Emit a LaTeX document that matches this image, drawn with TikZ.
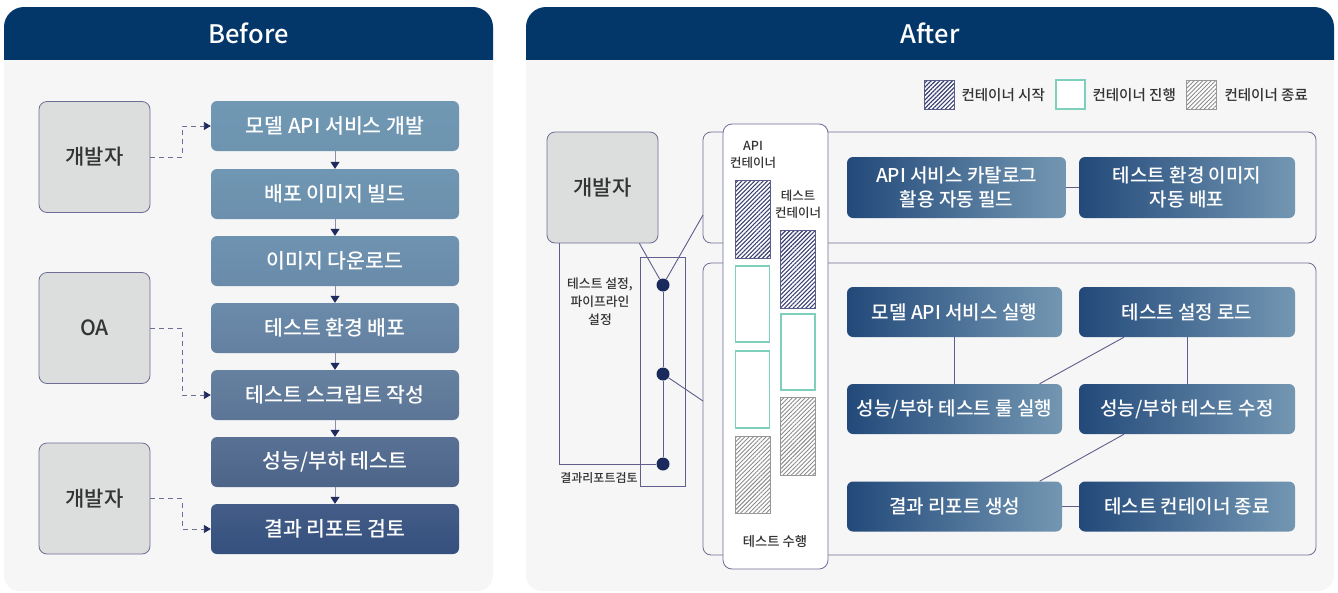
\documentclass[tikz,border=0pt]{standalone}
\usepackage{fontspec}
\setmainfont{Noto Sans CJK KR}
\newfontfamily\medfont{Noto Sans CJK KR Medium}
\usetikzlibrary{arrows.meta,patterns.meta}
\definecolor{hdrnavy}{HTML}{03376A}
\definecolor{panelbg}{HTML}{F6F6F6}
\definecolor{devgrey}{HTML}{DCDDDD}
\definecolor{boxedge}{HTML}{6E6D95}
\definecolor{linkcol}{HTML}{5F5E8C}
\definecolor{txtdark}{HTML}{333333}
\definecolor{tipnavy}{HTML}{1F2A5E}
\definecolor{steplink}{HTML}{8E8CA8}
\definecolor{dotnavy}{HTML}{1B2A5C}
\definecolor{flowleft}{HTML}{23497A}
\definecolor{flowright}{HTML}{7397B2}
\definecolor{hatchnavy}{HTML}{3A3F73}
\definecolor{hatchgrey}{HTML}{8C8C8C}
\definecolor{tealline}{HTML}{7DD0BC}
\definecolor{c1t}{HTML}{7098B3}\definecolor{c1b}{HTML}{6E94B0}
\definecolor{c2t}{HTML}{6F96B2}\definecolor{c2b}{HTML}{6C90AD}
\definecolor{c3t}{HTML}{6E93B0}\definecolor{c3b}{HTML}{6A8BAA}
\definecolor{c4t}{HTML}{6B8BAA}\definecolor{c4b}{HTML}{6480A1}
\definecolor{c5t}{HTML}{66819F}\definecolor{c5b}{HTML}{5C7597}
\definecolor{c6t}{HTML}{5A7196}\definecolor{c6b}{HTML}{4D6489}
\definecolor{c7t}{HTML}{445D88}\definecolor{c7b}{HTML}{35507E}
\tikzset{
  titletext/.style={text=white, font=\medfont\fontsize{25.5}{28}\selectfont},
  devbox/.style={draw=boxedge, fill=devgrey, rounded corners=8pt, line width=0.8pt,
    minimum width=111pt, minimum height=111pt, text=txtdark, font=\medfont\fontsize{21}{24}\selectfont},
  stepbox/.style={rounded corners=6pt, minimum width=248pt, minimum height=50pt,
    text=white, font=\medfont\fontsize{20.5}{24}\selectfont},
  steparrow/.style={draw=steplink, line width=1pt, -{Triangle[width=9pt,length=7pt,color=tipnavy]}},
  dashlink/.style={draw=boxedge, line width=0.9pt, dash pattern=on 5pt off 4pt,
    -{Triangle[width=8pt,length=7pt,color=tipnavy]}},
  groupbox/.style={draw=boxedge, fill=panelbg, rounded corners=8pt, line width=0.8pt},
  colbox/.style={draw=boxedge, fill=white, rounded corners=9pt, line width=0.8pt,
    minimum width=105pt, minimum height=445pt},
  flowbox/.style={rounded corners=6pt, left color=flowleft, right color=flowright,
    text=white, align=center, font=\medfont\fontsize{19}{24}\selectfont, minimum height=50pt},
  link/.style={draw=linkcol, line width=0.9pt},
  dot/.style={circle, fill=dotnavy, minimum size=13pt, inner sep=0pt},
  smalltext/.style={text=txtdark, align=center, font=\medfont\fontsize{12.5}{17}\selectfont},
  legtext/.style={text=txtdark, anchor=west, font=\medfont\fontsize{14.5}{16}\selectfont},
  startbox/.style={draw=hatchnavy!85, line width=0.8pt, preaction={fill=white},
    pattern={Lines[angle=45,distance=3pt,line width=1.1pt]}, pattern color=hatchnavy,
    minimum width=35pt, inner sep=0pt},
  runbox/.style={draw=tealline, fill=white, line width=1.4pt, minimum width=34pt, inner sep=0pt},
  endbox/.style={draw=hatchgrey!90, line width=0.8pt, preaction={fill=white},
    pattern={Lines[angle=45,distance=3pt,line width=0.9pt]}, pattern color=hatchgrey,
    minimum width=35pt, inner sep=0pt}
}
\begin{document}
\begin{tikzpicture}[x=1pt,y=-1pt]
  \useasboundingbox[fill=white] (0,0) rectangle (1338,592);
  % Before
  \fill[panelbg, rounded corners=16pt] (4,30) rectangle (493,591);
  \begin{scope}
    \clip (4,7) rectangle (493,59);
    \fill[hdrnavy, rounded corners=20pt] (4,7) rectangle (493,120);
  \end{scope}
  \node[titletext] (beforehd) at (248.5,33) {Before};

  \node[devbox] (dev1) at (94.5,157) {개발자};
  \node[devbox] (oa)   at (94.5,328) {OA};
  \node[devbox] (dev2) at (94.5,498.5) {개발자};

  \node[stepbox, top color=c1t, bottom color=c1b] (s1) at (335,126) {모델 API 서비스 개발};
  \node[stepbox, top color=c2t, bottom color=c2b] (s2) at (335,194) {배포 이미지 빌드};
  \node[stepbox, top color=c3t, bottom color=c3b] (s3) at (335,261) {이미지 다운로드};
  \node[stepbox, top color=c4t, bottom color=c4b] (s4) at (335,328) {테스트 환경 배포};
  \node[stepbox, top color=c5t, bottom color=c5b] (s5) at (335,395) {테스트 스크립트 작성};
  \node[stepbox, top color=c6t, bottom color=c6b] (s6) at (335,462) {성능/부하 테스트};
  \node[stepbox, top color=c7t, bottom color=c7b] (s7) at (335,529) {결과 리포트 검토};

  \draw[steparrow] (s1) -- (s2);
  \draw[steparrow] (s2) -- (s3);
  \draw[steparrow] (s3) -- (s4);
  \draw[steparrow] (s4) -- (s5);
  \draw[steparrow] (s5) -- (s6);
  \draw[steparrow] (s6) -- (s7);

  \draw[dashlink] (dev1.east) -- ++(32,0) |- (s1.west);
  \draw[dashlink] (oa.east)   -- ++(32,0) |- (s5.west);
  \draw[dashlink] (dev2.east) -- ++(32,0) |- (s7.west);

  % After
  \fill[panelbg, rounded corners=16pt] (526,30) rectangle (1334,591);
  \begin{scope}
    \clip (526,7) rectangle (1334,59);
    \fill[hdrnavy, rounded corners=20pt] (526,7) rectangle (1334,120);
  \end{scope}
  \node[titletext] (afterhd) at (930,33) {After};

  \node[startbox, minimum width=30pt, minimum height=29pt] (legstart) at (939,94.5) {};
  \node[legtext] (legstarttx) at (958,95) {컨테이너 시작};
  \node[runbox, minimum width=29pt, minimum height=29pt] (legrun) at (1070.5,94.5) {};
  \node[legtext] (legruntx) at (1089,95) {컨테이너 진행};
  \node[endbox, minimum width=30pt, minimum height=29pt] (legend) at (1201,94.5) {};
  \node[legtext] (legendtx) at (1221,95) {컨테이너 종료};

  \node[groupbox, minimum width=613pt, minimum height=111pt] (topgrp) at (1009.5,187.5) {};
  \node[groupbox, minimum width=613pt, minimum height=292pt] (lowgrp) at (1009.5,409) {};
  \node[colbox] (cols) at (775.5,346.5) {};

  \node[smalltext] (apitx)  at (753,155) {API\\컨테이너};
  \node[smalltext] (testtx) at (798,204) {테스트\\컨테이너};
  \node[startbox, minimum height=78pt] (a1) at (752.5,219) {};
  \node[runbox,   minimum height=76pt] (a2) at (752.5,304) {};
  \node[runbox,   minimum height=77pt] (a3) at (752.5,389.5) {};
  \node[endbox,   minimum height=77pt] (a4) at (752.5,474.5) {};
  \node[startbox, minimum height=78pt] (t1) at (798,269) {};
  \node[runbox,   minimum height=76pt] (t2) at (798,352) {};
  \node[endbox,   minimum height=78pt] (t3) at (798,436) {};
  \node[smalltext, font=\medfont\fontsize{13.3}{17}\selectfont] (runtx) at (775,542) {테스트 수행};

  \node[devbox] (devA) at (602.5,187.5) {개발자};
  \node[draw=linkcol, line width=0.9pt, minimum width=45pt, minimum height=229pt] (pipe) at (662.5,371.5) {};
  \node[smalltext, font=\medfont\fontsize{12.8}{18}\selectfont] (cfgtx) at (600,302) {테스트 설정,\\파이프라인\\설정};
  \node[smalltext, font=\medfont\fontsize{12}{14}\selectfont] (revtx) at (599,478) {결과리포트검토};

  \node[dot] (d1) at (663,285) {};
  \node[dot] (d2) at (663,374) {};
  \node[dot] (d3) at (663,464) {};
  \coordinate (topin) at (703,215);
  \coordinate (lowin) at (703,401);
  \coordinate (lbend) at (559,464);

  \draw[link] (d1) -- (d2);
  \draw[link] (d2) -- (d3);
  \draw[link] ([xshift=-19pt]devA.south east) -- (d1);
  \draw[link] (d1) -- (topin);
  \draw[link] (d2) -- (lowin);
  \draw[link] (devA.south -| lbend) -- (lbend) -- (d3);

  \node[flowbox, minimum width=219pt, minimum height=61pt] (catalog) at (956.5,187.5) {API 서비스 카탈로그\\활용 자동 필드};
  \node[flowbox, minimum width=216pt, minimum height=61pt] (imgdep)  at (1187,187.5) {테스트 환경 이미지\\자동 배포};
  \node[flowbox, minimum width=215pt] (runapi)  at (954.5,312) {모델 API 서비스 실행};
  \node[flowbox, minimum width=216pt] (loadcfg) at (1187,312) {테스트 설정 로드};
  \node[flowbox, minimum width=215pt] (runrule) at (954.5,409) {성능/부하 테스트 룰 실행};
  \node[flowbox, minimum width=216pt] (editrule) at (1187,409) {성능/부하 테스트 수정};
  \node[flowbox, minimum width=215pt] (report)  at (954.5,506.5) {결과 리포트 생성};
  \node[flowbox, minimum width=216pt] (endcont) at (1187,506.5) {테스트 컨테이너 종료};

  \draw[link] (catalog.east) -- (imgdep.west);
  \draw[link] (runapi.south) -- (runrule.north);
  \draw[link] (loadcfg.south) -- (editrule.north);
  \draw[link] ([xshift=-63pt]loadcfg.south) -- ([xshift=85pt]runrule.north);
  \draw[link] ([xshift=-63pt]editrule.south) -- ([xshift=85pt]report.north);
  \draw[link] (report.east) -- (endcont.west);
\end{tikzpicture}
\end{document}
